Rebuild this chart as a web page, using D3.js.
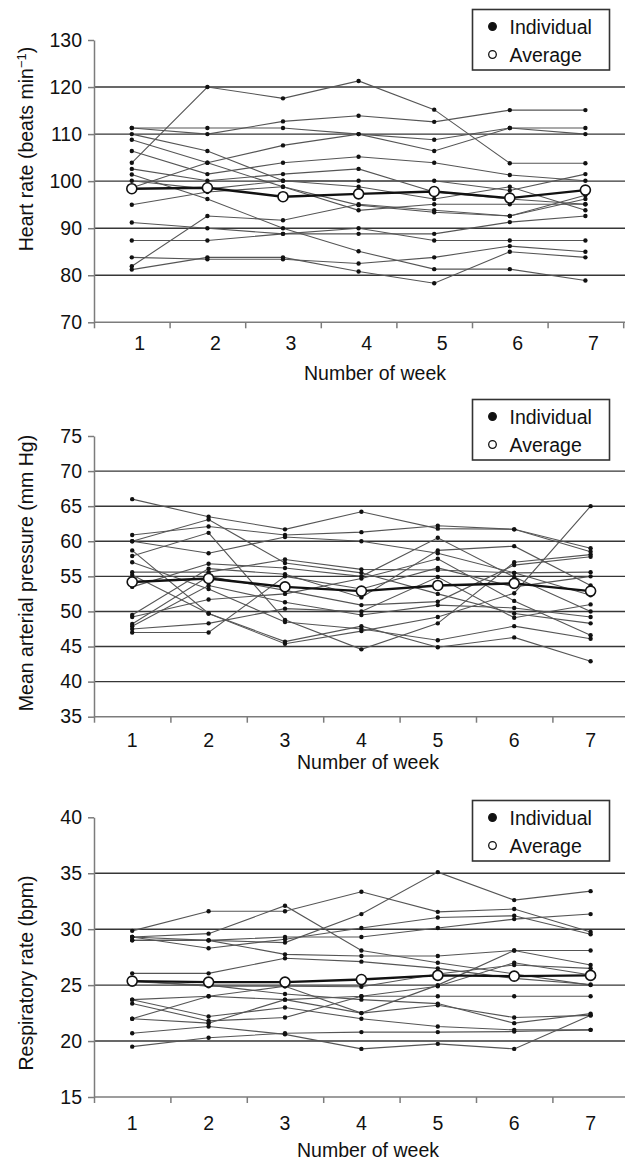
<!DOCTYPE html>
<html>
<head>
<meta charset="utf-8">
<script src="https://cdn.jsdelivr.net/npm/d3@7"></script>
<style>
  body { margin: 0; background: #fff; }
  svg { display: block; font-family: "Liberation Sans", Arial, Helvetica, sans-serif; }
</style>
</head>
<body>
<div id="main"></div>
<script>
const weeks = [1, 2, 3, 4, 5, 6, 7];

// heart rate (beats min-1)
const hrTicks = [70, 80, 90, 100, 110, 120, 130];
const hrGrid = [80, 90, 100, 110, 120];
const hrIndividual = [
  [103.9, 120.0, 117.6, 121.3, 115.2, 103.8, 103.8],
  [111.3, 110.0, 112.7, 113.9, 112.6, 115.1, 115.1],
  [111.3, 111.3, 111.3, 110.0, 108.8, 111.3, 111.3],
  [98.6, 103.9, 107.6, 110.0, 106.4, 111.3, 110.0],
  [110.0, 106.4, 100.1, 98.8, 96.2, 98.8, 93.8],
  [108.8, 103.9, 98.8, 94.9, 93.4, 92.6, 96.2],
  [106.4, 101.5, 103.9, 105.2, 103.9, 101.3, 100.1],
  [102.6, 100.1, 101.5, 102.6, 97.7, 96.2, 95.1],
  [101.4, 96.2, 90.0, 85.1, 81.3, 81.3, 78.9],
  [100.1, 98.3, 100.1, 100.1, 100.1, 98.0, 101.5],
  [95.0, 97.7, 98.8, 93.8, 95.1, 95.1, 95.1],
  [91.2, 90.0, 88.8, 88.8, 88.8, 91.3, 92.6],
  [87.4, 87.4, 88.8, 90.0, 87.4, 87.4, 87.4],
  [83.8, 83.4, 83.4, 82.5, 83.8, 86.2, 85.0],
  [81.2, 83.8, 83.8, 80.8, 78.3, 85.0, 83.8],
  [81.9, 92.6, 91.7, 95.1, 93.8, 92.6, 97.0]
];
const hrAverage = [98.4, 98.6, 96.7, 97.3, 97.8, 96.4, 98.1];

// mean arterial pressure (mm Hg)
const mapTicks = [35, 40, 45, 50, 55, 60, 65, 70, 75];
const mapGrid = [40, 45, 50, 55, 60, 65, 70];
const mapIndividual = [
  [66.0, 63.5, 61.7, 64.2, 61.8, 61.7, 59.0],
  [60.9, 62.1, 60.9, 61.3, 62.2, 61.7, 58.5],
  [60.0, 58.3, 60.6, 60.0, 58.3, 55.5, 52.3],
  [60.0, 63.1, 56.9, 55.5, 52.5, 49.7, 48.3],
  [58.7, 49.7, 45.4, 47.2, 49.2, 52.6, 65.0],
  [57.9, 61.2, 48.8, 44.6, 48.3, 57.0, 58.1],
  [57.0, 53.2, 48.5, 47.5, 45.9, 47.9, 46.1],
  [55.6, 55.6, 57.4, 56.0, 55.9, 55.5, 55.6],
  [55.2, 49.7, 45.7, 47.9, 44.9, 46.3, 42.9],
  [53.5, 56.8, 56.2, 55.0, 60.5, 54.9, 50.0],
  [49.5, 56.1, 55.3, 52.0, 58.7, 59.3, 53.7],
  [49.2, 51.7, 52.5, 54.7, 57.5, 51.5, 46.6],
  [48.2, 55.0, 53.0, 50.9, 51.4, 56.6, 57.8],
  [47.9, 53.7, 51.3, 49.5, 50.9, 50.5, 49.2],
  [47.5, 48.3, 50.4, 50.0, 54.9, 49.1, 51.0],
  [47.0, 47.0, 55.0, 53.2, 56.2, 53.5, 55.0]
];
const mapAverage = [54.2, 54.7, 53.5, 52.9, 53.7, 54.0, 52.9];

// respiratory rate (bpm)
const rrTicks = [15, 20, 25, 30, 35, 40];
const rrGrid = [20, 25, 30, 35];
const rrIndividual = [
  [29.85, 31.6, 31.6, 33.35, 31.55, 31.8, 29.75],
  [29.3, 29.6, 32.1, 28.1, 27.0, 26.0, 25.0],
  [29.0, 29.0, 28.8, 31.35, 35.1, 32.6, 33.4],
  [29.3, 28.3, 29.1, 30.1, 31.05, 31.2, 29.55],
  [29.0, 29.0, 29.3, 29.3, 30.1, 30.9, 31.35],
  [29.3, 29.0, 27.75, 27.6, 27.6, 28.1, 26.8],
  [26.05, 26.05, 27.4, 27.1, 26.5, 25.6, 25.05],
  [25.4, 24.9, 24.9, 24.85, 26.0, 26.8, 26.5],
  [25.3, 25.0, 24.2, 23.7, 23.35, 21.6, 22.45],
  [23.7, 24.0, 23.7, 22.5, 23.2, 22.1, 22.3],
  [23.35, 21.8, 22.1, 24.0, 24.0, 24.0, 24.0],
  [23.7, 22.2, 23.0, 22.0, 21.3, 21.0, 21.0],
  [22.0, 24.0, 24.9, 22.5, 25.0, 28.1, 28.1],
  [22.0, 21.6, 23.7, 24.0, 24.9, 27.0, 25.9],
  [20.7, 21.3, 20.6, 19.3, 19.75, 19.3, 22.3],
  [19.5, 20.3, 20.7, 20.8, 20.8, 20.85, 21.0]
];
const rrAverage = [25.36, 25.27, 25.27, 25.5, 25.87, 25.8, 25.87];

const legendLabels = ['Individual', 'Average'];

const W = 625, H = 1161;
const svg = d3.select('#main').append('svg').attr('width', W).attr('height', H);
const FS = 19.5;
const INK = '#111';

function drawPanel(cfg) {
  const left = 94;
  const x = d3.scaleBand().domain(weeks).range([left, cfg.xRight]);
  const xEdge = d3.scaleLinear().domain([0.5, 7.5]).range([left, cfg.xRight]);
  const y = d3.scaleLinear().domain(d3.extent(cfg.ticks)).range([cfg.bottom, cfg.top]);
  const g = svg.append('g');

  // horizontal gridlines run to the right edge
  g.selectAll('line.grid').data(cfg.grid).join('line')
    .attr('class', 'grid')
    .attr('x1', left).attr('x2', W)
    .attr('y1', d => y(d)).attr('y2', d => y(d))
    .attr('stroke', '#363636').attr('stroke-width', 1.4);

  // y axis
  const ya = g.append('g').attr('transform', `translate(${left},0)`)
    .call(d3.axisLeft(y).tickValues(cfg.ticks).tickSize(6).tickPadding(6).tickSizeOuter(0));
  // x axis: ticks at week boundaries, labels at band centres
  const xa = g.append('g').attr('transform', `translate(0,${cfg.bottom})`)
    .call(d3.axisBottom(xEdge).tickValues(d3.range(0.5, 8, 1)).tickSize(6).tickSizeOuter(0).tickFormat(''));
  xa.select('.domain').attr('d', `M${left},0H${W}`);
  const xl = g.append('g').attr('transform', `translate(0,${cfg.bottom})`)
    .call(d3.axisBottom(x).tickSize(0).tickPadding(cfg.labelPad));
  xl.select('.domain').remove();
  xl.selectAll('text').attr('dx', cfg.labelDx);

  [ya, xa, xl].forEach(a => {
    a.selectAll('.domain, .tick line').attr('stroke', '#7c7c7c').attr('stroke-width', 1.5);
    a.selectAll('text').attr('fill', INK).style('font-size', FS + 'px')
      .style('font-family', '"Liberation Sans", Arial, sans-serif');
  });

  // individual subjects
  const line = d3.line().x((d, i) => x(weeks[i]) + x.bandwidth() / 2).y(d => y(d));
  const subj = g.append('g');
  subj.selectAll('path').data(cfg.individual).join('path')
    .attr('d', line).attr('fill', 'none')
    .attr('stroke', '#555').attr('stroke-width', 1.1);
  subj.selectAll('g').data(cfg.individual).join('g')
    .selectAll('circle').data(d => d).join('circle')
    .attr('cx', (d, i) => x(weeks[i]) + x.bandwidth() / 2)
    .attr('cy', d => y(d)).attr('r', 2.2).attr('fill', INK);

  // average
  g.append('path').datum(cfg.average).attr('d', line).attr('fill', 'none')
    .attr('stroke', INK).attr('stroke-width', 2.4);
  g.selectAll('circle.avg').data(cfg.average).join('circle')
    .attr('class', 'avg')
    .attr('cx', (d, i) => x(weeks[i]) + x.bandwidth() / 2)
    .attr('cy', d => y(d)).attr('r', 5)
    .attr('fill', '#fff').attr('stroke', INK).attr('stroke-width', 1.6);

  // axis titles
  const yt = g.append('text')
    .attr('transform', `translate(33,${cfg.titleY}) rotate(-90)`)
    .attr('text-anchor', 'middle').style('font-size', FS + 'px').attr('fill', INK);
  yt.append('tspan').text(cfg.title[0]);
  if (cfg.title.length > 1) {
    yt.append('tspan').text(cfg.title[1]).attr('dy', -7).style('font-size', '13px');
    yt.append('tspan').text(cfg.title[2]).attr('dy', 7);
  }
  g.append('text').attr('x', cfg.xTitleX).attr('y', cfg.xTitleY)
    .attr('text-anchor', 'middle').style('font-size', FS + 'px').attr('fill', INK)
    .text('Number of week');

  // legend
  const lg = g.append('g').attr('transform', `translate(472.5,${cfg.legendTop})`);
  lg.append('rect').attr('width', 137).attr('height', 60.5)
    .attr('fill', '#fff').attr('stroke', '#333').attr('stroke-width', 1.6);
  const rows = lg.selectAll('g').data(legendLabels).join('g')
    .attr('transform', (d, i) => `translate(0,${17 + i * 28})`);
  rows.append('circle').attr('cx', 20).attr('r', 3.8)
    .attr('fill', (d, i) => i === 0 ? INK : '#fff')
    .attr('stroke', INK).attr('stroke-width', 1.3);
  rows.append('text').attr('x', 37).attr('y', 7).style('font-size', FS + 'px')
    .attr('fill', INK).text(d => d);
}

drawPanel({
  ticks: hrTicks, grid: hrGrid, individual: hrIndividual, average: hrAverage,
  top: 40, bottom: 322.3, xRight: 623.2, labelDx: 8, labelPad: 14,
  title: ['Heart rate (beats min', '\u22121', ')'], titleY: 149,
  xTitleX: 375, xTitleY: 380, legendTop: 9.5
});
drawPanel({
  ticks: mapTicks, grid: mapGrid, individual: mapIndividual, average: mapAverage,
  top: 436, bottom: 716.7, xRight: 628.8, labelDx: 0, labelPad: 16,
  title: ['Mean arterial pressure (mm Hg)'], titleY: 573,
  xTitleX: 368, xTitleY: 769, legendTop: 399.5
});
drawPanel({
  ticks: rrTicks, grid: rrGrid, individual: rrIndividual, average: rrAverage,
  top: 817.3, bottom: 1097, xRight: 628.8, labelDx: 0, labelPad: 19,
  title: ['Respiratory rate (bpm)'], titleY: 973,
  xTitleX: 368, xTitleY: 1157, legendTop: 800.5
});
</script>
</body>
</html>
